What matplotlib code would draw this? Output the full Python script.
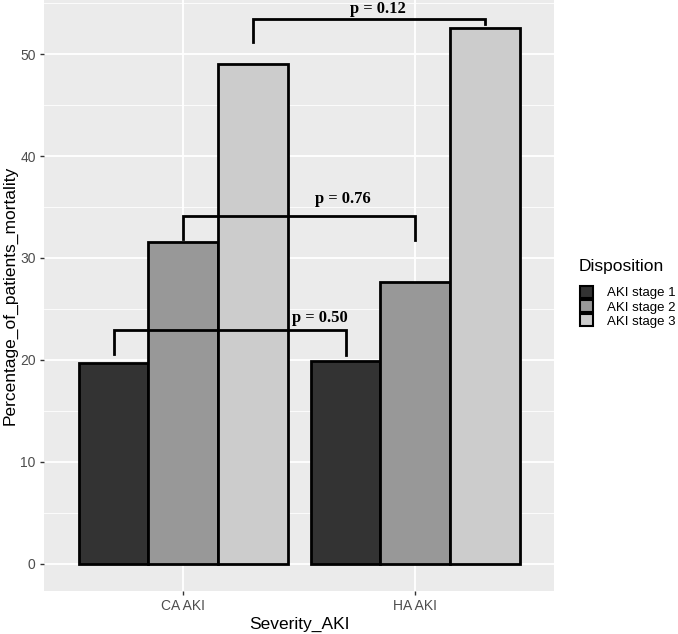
import numpy as np
import matplotlib
matplotlib.use('Agg')
import matplotlib.pyplot as plt
from matplotlib.patches import Patch

plt.rcParams['font.family'] = ['Liberation Sans', 'DejaVu Sans']

# data
groups = ['CA AKI', 'HA AKI']
stages = ['AKI stage 1', 'AKI stage 2', 'AKI stage 3']
mortality = {
    'AKI stage 1': [19.7, 19.9],
    'AKI stage 2': [31.6, 27.6],
    'AKI stage 3': [49.0, 52.6],
}
fills = ['#333333', '#989898', '#CCCCCC']

# significance brackets: (x1, x2, y_bar, y_leg1, y_leg2, label, label_x, label_y)
brackets = [
    (0.7, 1.7, 22.9, 20.6, 20.5, 'p = 0.50', 1.59, 24.1),
    (1.0, 2.0, 34.1, 31.9, 31.8, 'p = 0.76', 1.69, 35.8),
    (1.3, 2.3, 53.4, 51.2, 52.9, 'p = 0.12', 1.84, 54.4),
]

fig = plt.figure(figsize=(6.78, 6.34), dpi=100)
ax = fig.add_axes([44 / 678, 1 - 590.7 / 634, (554.3 - 44) / 678, 590.7 / 634])
ax.set_facecolor('#EBEBEB')

x = np.arange(1, len(groups) + 1)
bw = 0.3
for i, st in enumerate(stages):
    ax.bar(x + (i - 1) * bw, mortality[st], width=bw, color=fills[i],
           edgecolor='black', linewidth=2.0, zorder=3)

for x1, x2, yb, yl1, yl2, lab, lx, ly in brackets:
    ax.plot([x1, x1, x2, x2], [yl1, yb, yb, yl2], color='black', lw=2.0,
            zorder=4, solid_joinstyle='miter')
    ax.text(lx, ly, lab, ha='center', va='center', fontsize=11.9,
            fontweight='bold', family='Liberation Serif', zorder=5)

ax.set_xlim(0.4, 2.6)
ax.set_ylim(-2.63, 55.3)
ax.set_xticks(x)
ax.set_xticklabels(groups)
ax.set_yticks(np.arange(0, 51, 10))
ax.set_yticks(np.arange(5, 56, 10), minor=True)
ax.grid(which='major', color='white', lw=1.3, zorder=0)
ax.grid(which='minor', axis='y', color='white', lw=0.6, zorder=0)
ax.tick_params(which='major', length=3, width=1, color='#333333',
               labelsize=10, labelcolor='#4D4D4D', pad=3)
ax.tick_params(which='minor', length=0)
for s in ax.spines.values():
    s.set_visible(False)
ax.set_axisbelow(True)

ax.set_xlabel('Severity_AKI', fontsize=12.5, labelpad=3)
ax.set_ylabel('Percentage_of_patients_mortality', fontsize=12.5, labelpad=2)

# legend title placed on its own so the gap to the keys matches
fig.text(579 / 678, 1 - 266.7 / 634, 'Disposition', ha='left', va='center', fontsize=12.5)
handles = [Patch(facecolor=c, edgecolor='black', linewidth=1.5) for c in fills]
fig.legend(handles, stages, loc='upper left', bbox_to_anchor=(580 / 678, 1 - 286 / 634),
           frameon=False, fontsize=9.5, handlelength=1.0, handleheight=1.0,
           handletextpad=1.05, labelspacing=0.06, borderpad=0, borderaxespad=0)

fig.savefig('out.png', dpi=100)
